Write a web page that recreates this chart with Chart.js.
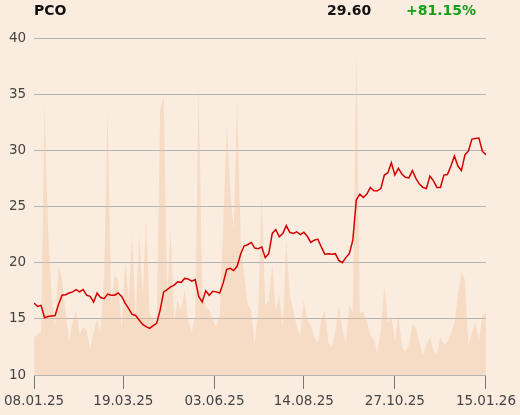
<!DOCTYPE html>
<html>
<head>
<meta charset="utf-8">
<script src="https://cdn.jsdelivr.net/npm/chart.js@4/dist/chart.umd.min.js"></script>
<style>
  body { margin: 0; background: #fbece0; }
  #wrap { position: relative; width: 520px; height: 415px; }
  .hdr { position: absolute; top: 2px; font: bold 14px "DejaVu Sans", sans-serif; line-height: 16px; }
</style>
</head>
<body>
<div id="wrap">
  <canvas id="chart" width="520" height="415"></canvas>
  <div class="hdr" style="left:34px;color:#111">PCO</div>
  <div class="hdr" style="left:327px;color:#111">29.60</div>
  <div class="hdr" style="left:406px;color:#15a015">+81.15%</div>
</div>
<script>
// closing price, every 2nd trading day from 08.01.25 to 15.01.26
const price = [
  16.4, 16.1, 16.2, 15.1, 15.2, 15.25, 15.3, 16.3, 17.1, 17.15,
  17.3, 17.4, 17.6, 17.4, 17.6, 17.1, 17.0, 16.5, 17.3, 16.9,
  16.8, 17.2, 17.1, 17.1, 17.3, 17.0, 16.4, 15.9, 15.4, 15.3,
  14.9, 14.5, 14.3, 14.15, 14.4, 14.6, 15.8, 17.4, 17.6, 17.85,
  18.0, 18.3, 18.25, 18.6, 18.55, 18.35, 18.5, 17.0, 16.5, 17.5,
  17.1, 17.45, 17.4, 17.3, 18.2, 19.4, 19.5, 19.3, 19.7, 20.8,
  21.5, 21.6, 21.8, 21.3, 21.25, 21.4, 20.45, 20.8, 22.6, 22.95,
  22.3, 22.6, 23.3, 22.7, 22.6, 22.75, 22.5, 22.7, 22.35, 21.8,
  22.0, 22.1, 21.4, 20.75, 20.8, 20.75, 20.8, 20.2, 20.0, 20.45,
  20.8, 22.0, 25.6, 26.1, 25.8, 26.1, 26.7, 26.4, 26.4, 26.6,
  27.8, 28.0, 28.9, 27.8, 28.4, 27.9, 27.6, 27.55, 28.2, 27.5,
  27.0, 26.7, 26.6, 27.7, 27.3, 26.7, 26.7, 27.8, 27.85, 28.6,
  29.5, 28.6, 28.2, 29.6, 29.95, 31.0, 31.05, 31.1, 29.9, 29.6
];

// volume (thousand shares), same days
const volume = [
  370, 410, 430, 2700, 1450, 800, 480, 1100, 950, 620,
  350, 520, 650, 400, 480, 450, 260, 430, 560, 440,
  1000, 2650, 700, 1000, 950, 450, 1150, 750, 1400, 550,
  1400, 800, 1550, 600, 570, 480, 2650, 2800, 800, 1450,
  560, 750, 650, 850, 550, 420, 600, 2900, 800, 680,
  650, 550, 480, 600, 1500, 2500, 1850, 1450, 2750, 1350,
  1000, 700, 650, 300, 650, 1800, 700, 750, 1100, 650,
  800, 480, 1350, 800, 650, 480, 400, 750, 550, 500,
  380, 320, 550, 650, 330, 280, 430, 700, 450, 320,
  700, 620, 3250, 620, 630, 530, 400, 350, 230, 450,
  900, 520, 580, 350, 600, 280, 230, 300, 520, 470,
  330, 200, 300, 380, 250, 200, 380, 300, 330, 420,
  530, 800, 1030, 950, 300, 420, 530, 350, 600, 620
];

// trading day index of each sample
const dayIndex = price.map((_, i) => i * 2);

const tickDays = [0, 51, 103, 154, 206, 258];
const tickLabels = ['08.01.25', '19.03.25', '03.06.25', '14.08.25', '27.10.25', '15.01.26'];
const priceTicks = [10, 15, 20, 25, 30, 35, 40];

const tickFont = { family: 'DejaVu Sans', size: 13.5 };

new Chart(document.getElementById('chart'), {
  type: 'line',
  data: {
    labels: dayIndex,
    datasets: [
      {
        data: price,
        yAxisID: 'y',
        borderColor: '#d40000',
        borderWidth: 1.5,
        pointRadius: 0,
        tension: 0,
        fill: false
      },
      {
        data: volume,
        yAxisID: 'vol',
        borderWidth: 0,
        pointRadius: 0,
        tension: 0,
        backgroundColor: 'rgba(240, 190, 150, 0.36)',
        fill: 'origin'
      }
    ]
  },
  options: {
    responsive: false,
    animation: false,
    layout: { padding: { top: 38, right: 34, left: 0, bottom: 0 } },
    plugins: { legend: { display: false }, tooltip: { enabled: false } },
    scales: {
      x: {
        type: 'linear',
        min: 0,
        max: 258,
        afterBuildTicks: (scale) => {
          scale.ticks = tickDays.map((v) => ({ value: v }));
        },
        afterFit: (scale) => { scale.height = 40; },
        ticks: {
          autoSkip: false,
          maxRotation: 0,
          padding: 4,
          color: '#444',
          font: tickFont,
          callback: (value, index) => tickLabels[index]
        },
        grid: { drawOnChartArea: false, drawTicks: true, tickLength: 14, color: '#777' },
        border: { display: false }
      },
      y: {
        min: 10,
        max: 40,
        afterBuildTicks: (scale) => {
          scale.ticks = priceTicks.map((v) => ({ value: v }));
        },
        afterFit: (scale) => { scale.width = 34; },
        ticks: { padding: 8, color: '#444', font: tickFont },
        grid: { drawTicks: false, color: '#b4b4b4' },
        border: { display: false }
      },
      vol: {
        display: false,
        min: 0,
        max: 3370
      }
    }
  }
});
</script>
</body>
</html>
